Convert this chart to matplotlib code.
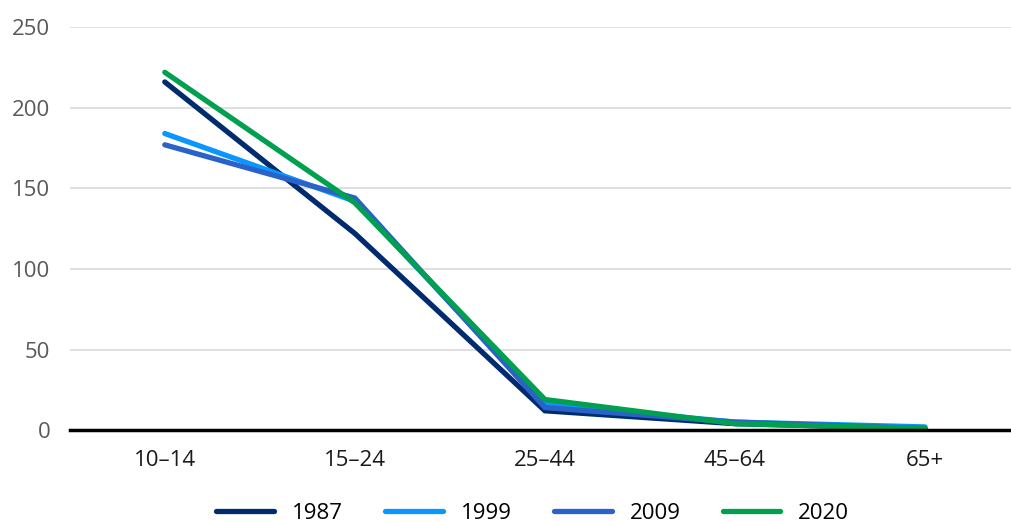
import matplotlib.pyplot as plt
import numpy as np

plt.rcParams['font.family'] = ['Open Sans', 'DejaVu Sans']

age_groups = ['10\u201314', '15\u201324', '25\u201344', '45\u201364', '65+']
years = ['1987', '1999', '2009', '2020']
v1987 = [216, 122, 12, 4, 1]
v1999 = [184, 142, 16, 5, 2]
v2009 = [177, 144, 14, 5, 1]
v2020 = [222, 141, 19, 4, 1]
colors = ['#002b6e', '#0a96ff', '#2a62c8', '#00a050']

fig = plt.figure(figsize=(10.11, 5.22), dpi=100)
ax = fig.add_axes([0.069, 0.176, 0.94, 0.772])

x = np.arange(len(age_groups))
for vals, lab, c in zip([v1987, v1999, v2009, v2020], years, colors):
    ax.plot(x, vals, color=c, lw=3.8, label=lab, solid_capstyle='round', solid_joinstyle='miter',
            clip_on=False)

ax.set_xlim(-0.5, 4.5)
ax.set_ylim(0, 250)
ax.set_yticks(range(0, 251, 50))
ax.set_xticks(x)
ax.set_xticklabels(age_groups)
ax.grid(axis='y', color='#d9d9d9', lw=1.2)
ax.set_axisbelow(True)
for s in ['top', 'right', 'left']:
    ax.spines[s].set_visible(False)
ax.spines['bottom'].set_linewidth(2.5)
ax.spines['bottom'].set_color('black')
ax.spines['bottom'].set_zorder(5)
ax.tick_params(axis='both', length=0, labelsize=16, labelcolor='#595959', pad=14)
ax.tick_params(axis='x', labelcolor='#1a1a1a', pad=14)

fig.legend(loc='lower center', bbox_to_anchor=(0.527, -0.008), ncol=4, frameon=False,
           fontsize=16, handlelength=2.6, columnspacing=1.9, handletextpad=0.8,
           borderaxespad=0, borderpad=0.1)

fig.savefig('out.png', dpi=100)
